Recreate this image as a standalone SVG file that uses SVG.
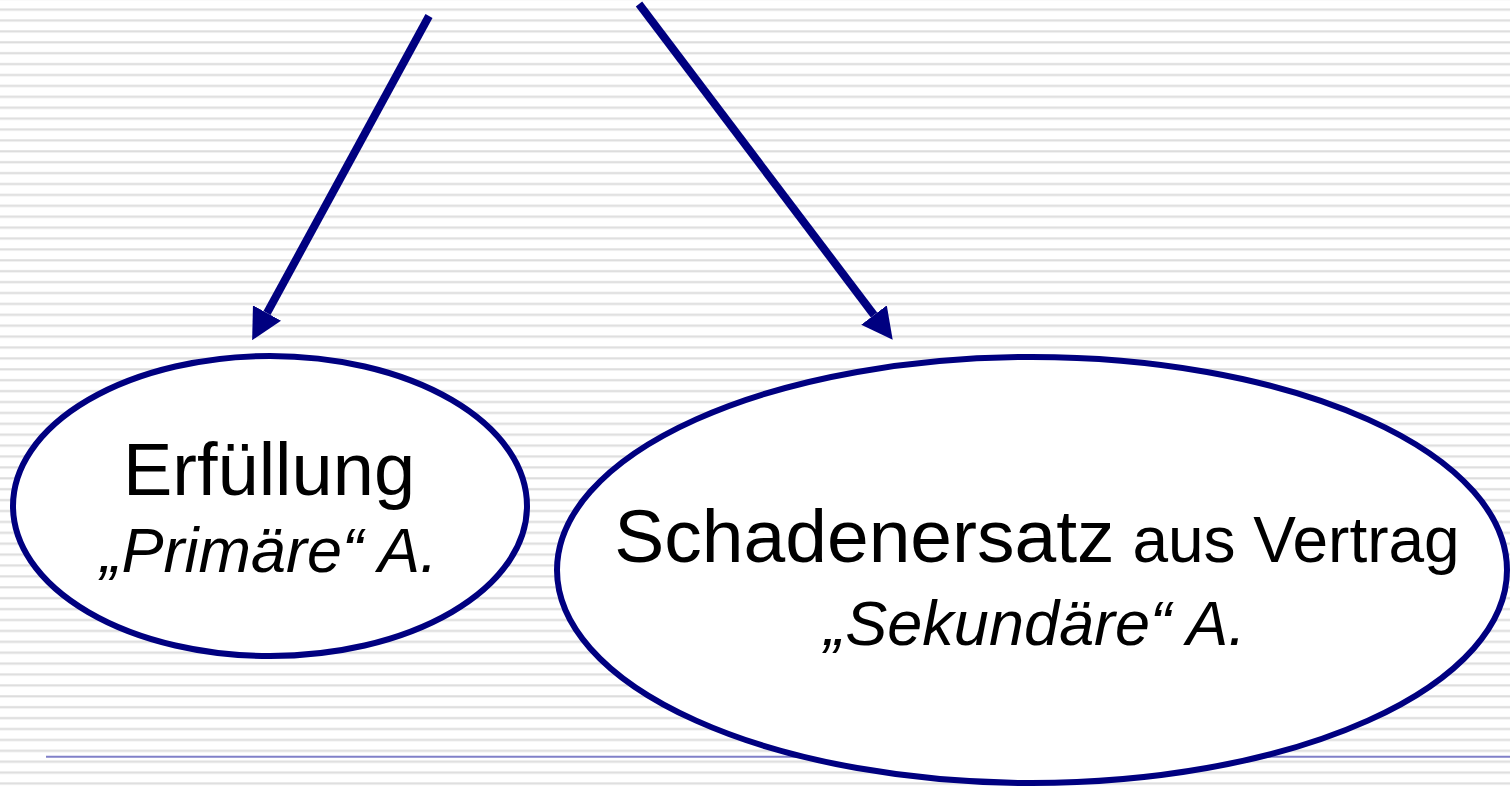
<svg xmlns="http://www.w3.org/2000/svg" width="1510" height="789" viewBox="0 0 1510 789">
<style>
.node{fill:#ffffff;stroke:#000080;stroke-width:6}
.conn{stroke:#000080;stroke-width:8;fill:none;marker-end:url(#head)}
.t{font-family:"Liberation Sans",Arial,sans-serif;fill:#000000;text-anchor:middle}
.i{font-style:italic}
</style>
<defs>
<pattern id="stripes" patternUnits="userSpaceOnUse" x="0" y="8.3" width="20" height="10.9">
<rect x="0" y="0" width="20" height="10.9" fill="#ffffff"/>
<rect x="0" y="0" width="20" height="2.6" fill="#e9e9e9"/>
<rect x="0" y="0.7" width="20" height="1.2" fill="#dcdcdc"/>
</pattern>
<marker id="head" markerUnits="userSpaceOnUse" viewBox="0 -16 31 32" refX="0" refY="0" markerWidth="31" markerHeight="32" orient="auto">
<path d="M0,-16 L31,0 L0,16 z" fill="#000080"/>
</marker>
</defs>
<rect x="0" y="0" width="1510" height="789" fill="url(#stripes)"/>
<line x1="46" y1="756.7" x2="1510" y2="756.7" stroke="#8080c8" stroke-width="2"/>
<g id="connectors">
<line class="conn" x1="429" y1="16" x2="267" y2="313"/>
<line class="conn" x1="639" y1="4" x2="874" y2="315"/>
</g>
<g id="node-erfuellung">
<ellipse class="node" cx="270" cy="506" rx="257" ry="150"/>
<text class="t" x="269" y="495" font-size="74">Erfüllung</text>
<text class="t i" x="269" y="572" font-size="63">„Primäre“ A.</text>
</g>
<g id="node-schadenersatz">
<ellipse class="node" cx="1032" cy="570" rx="475" ry="213"/>
<text class="t" x="1037" y="562"><tspan font-size="75">Schadenersatz</tspan><tspan font-size="64"> aus Vertrag</tspan></text>
<text class="t i" x="1035" y="645" font-size="63">„Sekundäre“ A.</text>
</g>
</svg>
